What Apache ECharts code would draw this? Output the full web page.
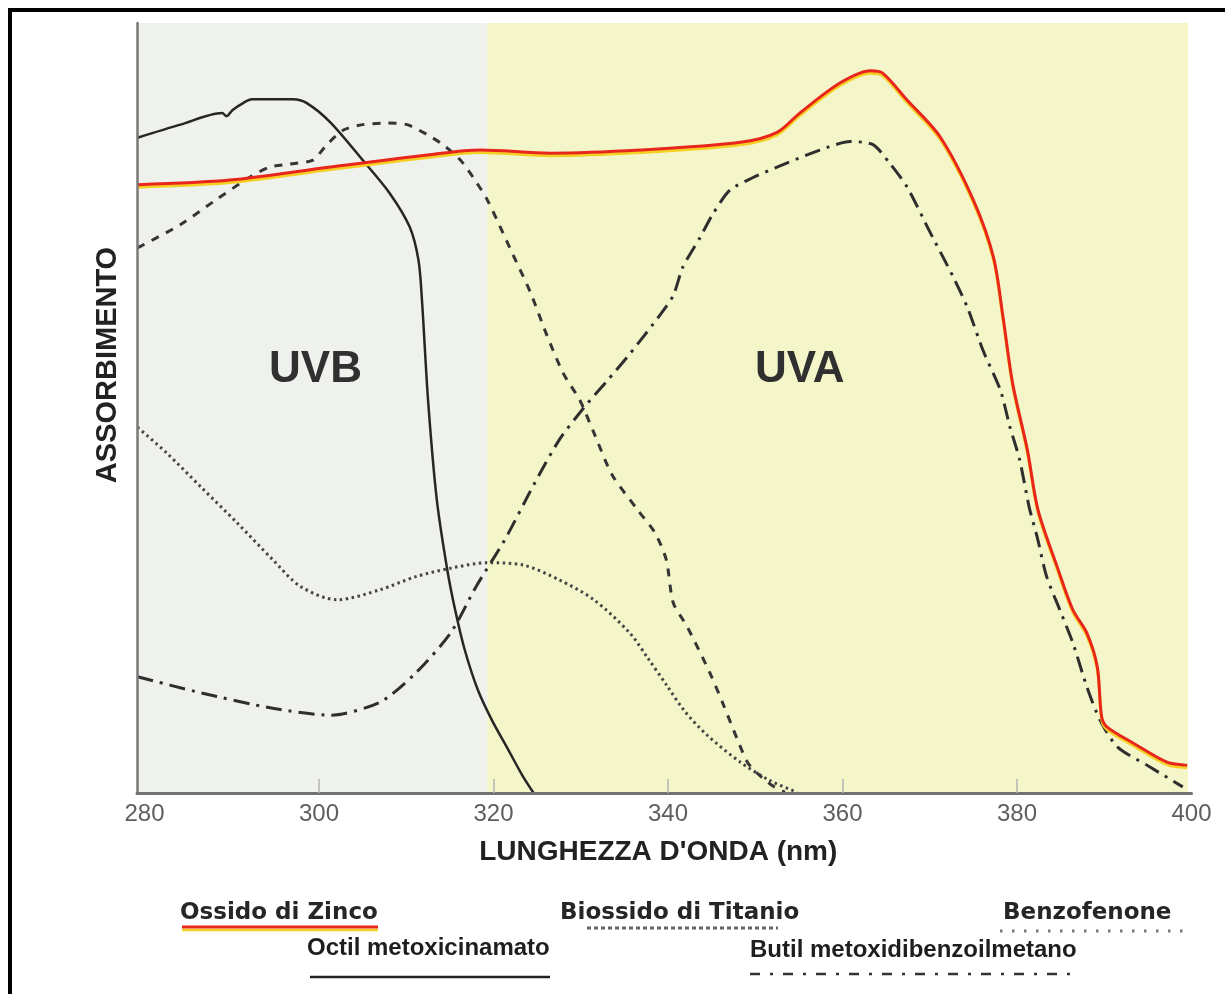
<!DOCTYPE html>
<html><head><meta charset="utf-8">
<script src="https://cdn.jsdelivr.net/npm/echarts@6/dist/echarts.min.js"></script>
<style>html,body{margin:0;padding:0;background:#fff}#c{width:1225px;height:994px}</style>
</head><body><div id="c"></div><script>
// ---- data (wavelength nm, relative absorbance 0-100) ----
const xLabelValues = [280, 300, 320, 340, 360, 380, 400];
const xTickValues = [300, 320, 340, 360, 380];
const seriesNames = ['Ossido di Zinco', 'Octil metoxicinamato', 'Biossido di Titanio', 'Benzofenone', 'Butil metoxidibenzoilmetano'];
const regionNames = ['UVB', 'UVA'];
const regionBounds = [279.14, 319.3, 399.6];

const zincoX = [279.2, 289.8, 301.3, 312.7, 318.5, 326.5, 336.8, 348.3, 352.5, 355.1, 359.7, 363.2, 364.6, 367.4, 371.2, 375.0, 377.3, 378.4, 379.5, 381.2, 382.4, 384.6, 386.4, 388.0, 389.2, 389.7, 390.3, 393.3, 397.2, 399.5];
const zincoY = [79.0, 79.6, 81.3, 82.9, 83.5, 83.1, 83.5, 84.5, 85.8, 88.3, 92.2, 93.8, 93.5, 90.0, 85.2, 77.0, 69.6, 61.8, 53.2, 44.5, 36.8, 29.4, 23.8, 20.8, 16.4, 9.9, 8.6, 6.5, 4.0, 3.6];

const octilX = [279.2, 284.1, 288.9, 289.4, 290.1, 291.3, 292.3, 297.0, 298.6, 301.3, 305.0, 308.1, 310.4, 311.4, 311.8, 312.5, 313.5, 314.7, 315.6, 316.7, 318.2, 319.8, 321.7, 323.3, 324.6];
const octilY = [85.1, 86.8, 88.3, 87.9, 88.7, 89.6, 90.1, 90.1, 89.6, 87.1, 82.2, 77.9, 73.5, 69.2, 64.0, 51.0, 38.1, 29.0, 23.8, 18.6, 13.4, 9.5, 5.6, 2.3, 0];

const titanioX = [279.2, 284.1, 287.9, 292.1, 294.4, 296.7, 299.3, 300.9, 302.8, 305.0, 307.8, 310.1, 312.4, 314.2, 316.2, 317.7, 319.3, 321.1, 322.2, 324.2, 326.1, 328.0, 329.9, 331.5, 333.6, 336.5, 338.5, 339.8, 340.6, 342.2, 344.8, 346.3, 347.9, 349.1, 350.2, 351.9, 353.4];
const titanioY = [70.8, 73.8, 76.8, 80.0, 81.3, 81.7, 82.2, 84.2, 86.1, 86.8, 87.0, 86.8, 85.5, 84.2, 82.2, 79.9, 77.0, 72.7, 70.0, 65.1, 59.5, 54.5, 51.0, 46.8, 41.3, 36.8, 33.8, 30.3, 24.7, 21.6, 15.6, 11.6, 7.1, 4.0, 2.6, 1.0, 0.1];

const benzoX = [279.2, 282.5, 286.5, 290.6, 294.7, 297.9, 302.1, 307.0, 311.1, 315.1, 319.3, 323.4, 327.5, 331.5, 335.6, 337.7, 339.9, 342.0, 344.5, 348.3, 351.7, 354.8];
const benzoY = [47.5, 44.2, 39.7, 35.1, 30.3, 26.8, 25.1, 26.4, 28.1, 29.2, 29.9, 29.6, 27.7, 25.1, 20.8, 17.5, 13.9, 10.5, 7.5, 4.0, 1.6, 0.1];

const butilX = [279.2, 286.5, 294.7, 301.3, 307.0, 311.1, 315.1, 318.0, 321.3, 324.6, 327.5, 330.4, 333.0, 335.6, 339.1, 340.6, 341.7, 343.7, 345.2, 347.1, 349.7, 353.6, 357.4, 360.9, 363.5, 365.4, 367.4, 370.0, 372.7, 374.3, 376.1, 378.1, 379.2, 380.3, 381.4, 382.3, 383.4, 384.9, 386.4, 388.0, 389.5, 391.5, 395.2, 399.0];
const butilY = [15.1, 13.0, 11.0, 10.1, 11.8, 15.6, 20.8, 26.8, 32.9, 40.0, 45.8, 50.1, 53.5, 57.0, 62.1, 64.6, 68.3, 72.2, 75.3, 78.3, 79.9, 81.8, 83.5, 84.6, 84.2, 81.8, 78.7, 72.9, 67.0, 63.1, 57.5, 52.3, 47.5, 43.3, 37.1, 33.3, 28.1, 23.8, 19.5, 13.8, 9.5, 6.0, 3.4, 0.8];

const regionLabelPos = [[299.6, 54.9], [355.1, 54.9]];

// ---- build ----
const pairs = (xs, ys) => xs.map((x, i) => [x, ys[i]]);
const SANS = 'Liberation Sans, Arial, Helvetica, sans-serif';
const WIDE = 'DejaVu Sans, Verdana, sans-serif';
const chart = echarts.init(document.getElementById('c'));

function lineSeries(name, xs, ys, style, z, smooth) {
  return { name, type: 'line', data: pairs(xs, ys), showSymbol: false, smooth: smooth, z,
    lineStyle: style, emphasis: { disabled: true }, silent: true };
}

const option = {
  animation: false,
  backgroundColor: '#ffffff',
  grid: { left: 137, top: 23, right: 33.5, bottom: 201 },
  xAxis: {
    type: 'value', min: regionBounds[0], max: 400, z: 10,
    axisLine: { show: true, lineStyle: { color: '#727272', width: 3 } },
    axisTick: { show: true, inside: true, length: 14, customValues: xTickValues, lineStyle: { color: '#b4b4b4', width: 1.5 } },
    axisLabel: { customValues: xLabelValues, color: '#5e5e5e', fontSize: 24, fontFamily: SANS, margin: 9 },
    splitLine: { show: false },
    name: "LUNGHEZZA D'ONDA (nm)", nameLocation: 'middle', nameGap: 45,
    nameTextStyle: { fontSize: 28, fontWeight: 'bold', color: '#222', fontFamily: SANS, padding: [0, 12, 0, 0] }
  },
  yAxis: {
    type: 'value', min: 0, max: 100, z: 10,
    axisLine: { show: true, lineStyle: { color: '#7a7a7a', width: 2.5 } },
    axisTick: { show: false }, axisLabel: { show: false }, splitLine: { show: false }
  },
  series: [
    { type: 'line', data: [], z: 1, silent: true,
      markArea: { silent: true, data: [
        [{ xAxis: regionBounds[0], yAxis: 0, itemStyle: { color: '#eef1ec' } }, { xAxis: regionBounds[1], yAxis: 100 }],
        [{ xAxis: regionBounds[1], yAxis: 0, itemStyle: { color: '#f4f6ca' } }, { xAxis: regionBounds[2], yAxis: 100 }]
      ] },
      markPoint: { silent: true, symbol: 'circle', symbolSize: 1, itemStyle: { color: 'rgba(0,0,0,0)' },
        label: { show: true, position: 'inside', formatter: '{b}', fontSize: 44, fontWeight: 'bold', color: '#303030', fontFamily: SANS },
        data: regionNames.map((n, i) => ({ name: n, coord: regionLabelPos[i] })) }
    },
    lineSeries(seriesNames[3], benzoX, benzoY, { color: '#454545', width: 3, type: [2.5, 3.5] }, 3, 0.3),
    lineSeries(seriesNames[2], titanioX, titanioY, { color: '#353535', width: 3, type: [8, 8] }, 3, 0.25),
    lineSeries(seriesNames[4], butilX, butilY, { color: '#2e2e2e', width: 3, type: [16, 7, 3, 7] }, 3, 0.25),
    lineSeries(seriesNames[1], octilX, octilY, { color: '#262626', width: 2.5 }, 4, 0.3),
    lineSeries(seriesNames[0], zincoX, zincoY, { color: '#e8261c', width: 3, shadowColor: '#f5cf22', shadowOffsetY: 2.5, shadowBlur: 0 }, 5, 0.3)
  ],
  graphic: [
    { type: 'polyline', shape: { points: [[10, 1010], [10, 10], [1230, 10]] }, style: { fill: 'none', stroke: '#000', lineWidth: 4 }, silent: true, z: 100 },
    // y-axis title
    { type: 'text', x: 108, y: 365, rotation: Math.PI / 2,
      style: { text: 'ASSORBIMENTO', font: 'bold 29px ' + SANS, fill: '#222', textAlign: 'center', textVerticalAlign: 'middle' } },
    // legend row 1
    { type: 'text', x: 180, y: 913, style: { text: seriesNames[0], font: 'bold 23px ' + WIDE, fill: '#262626', textVerticalAlign: 'middle' } },
    { type: 'line', shape: { x1: 182, y1: 930, x2: 378, y2: 930 }, style: { stroke: '#f5cf22', lineWidth: 2.5 } },
    { type: 'line', shape: { x1: 182, y1: 927, x2: 378, y2: 927 }, style: { stroke: '#e8261c', lineWidth: 3 } },
    { type: 'text', x: 560, y: 913, style: { text: seriesNames[2], font: 'bold 23px ' + WIDE, fill: '#262626', textVerticalAlign: 'middle' } },
    { type: 'line', shape: { x1: 587, y1: 928, x2: 778, y2: 928 }, style: { stroke: '#666', lineWidth: 3, lineDash: [4, 3] } },
    { type: 'text', x: 1003, y: 913, style: { text: seriesNames[3], font: 'bold 23px ' + WIDE, fill: '#262626', textVerticalAlign: 'middle' } },
    { type: 'line', shape: { x1: 1000, y1: 931, x2: 1192, y2: 931 }, style: { stroke: '#777', lineWidth: 3, lineDash: [2.5, 9.5] } },
    // legend row 2
    { type: 'text', x: 307, y: 948, style: { text: seriesNames[1], font: 'bold 24px ' + SANS, fill: '#1e1e1e', textVerticalAlign: 'middle' } },
    { type: 'line', shape: { x1: 310, y1: 977, x2: 550, y2: 977 }, style: { stroke: '#222', lineWidth: 2.5 } },
    { type: 'text', x: 750, y: 950, style: { text: seriesNames[4], font: 'bold 24px ' + SANS, fill: '#1e1e1e', textVerticalAlign: 'middle' } },
    { type: 'line', shape: { x1: 750, y1: 974, x2: 1078, y2: 974 }, style: { stroke: '#333', lineWidth: 2.5, lineDash: [10, 10, 3, 10] } }
  ]
};
chart.setOption(option);
</script></body></html>
